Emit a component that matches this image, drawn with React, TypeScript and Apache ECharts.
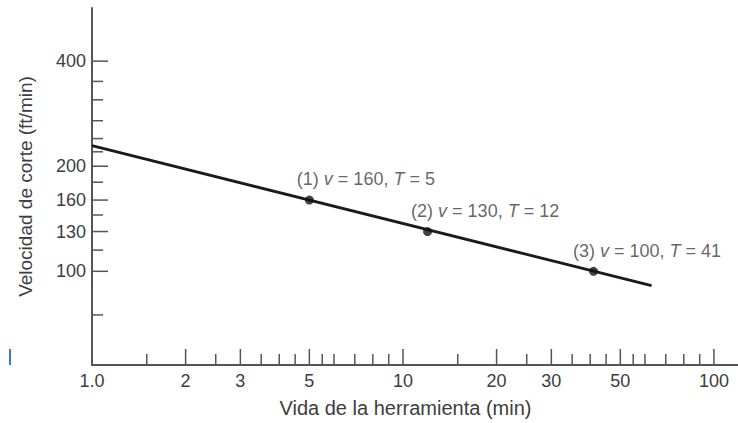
import React, { useEffect, useRef } from "react";
import * as echarts from "echarts";

// Tool life (min) and cutting speed (ft/min) of the three measured points
const toolLife = [5, 12, 41];
const cuttingSpeed = [160, 130, 100];

// Taylor line ends (T = 1 and T = 63)
const lineToolLife = [1, 63];
const lineSpeed = [229, 91];

// X axis (log) ticks and labels
const xLabelValues = [1, 2, 3, 5, 10, 20, 30, 50, 100];
const xLabelTexts = ["1.0", "2", "3", "5", "10", "20", "30", "50", "100"];
const xMajorTicks = [2, 3, 5, 10, 20, 30, 50, 100];
const xMinorTicks = [1.5, 2.5, 3.5, 4, 4.5, 5.5, 6, 7, 8, 9, 15, 25, 35, 40, 45, 55, 60, 70, 80, 90];

// Y axis (log) ticks and labels
const yLabelValues = [100, 130, 160, 200, 400];
const yLabelTexts = ["100", "130", "160", "200", "400"];
const yMinorTicks = [75, 115, 145, 180, 220, 240, 270, 310, 350];

const X_MIN = 1;
const X_MAX = 119.5;
const Y_MIN = 53.9;
const Y_MAX = 568;

const FONT = "'Liberation Sans', Arial, Helvetica, sans-serif";
const TEXT_COLOR = "#3d3d3d";
const AXIS_COLOR = "#555555";
const MAJOR_LEN = 16;
const MINOR_LEN = 11;

export default function App() {
  const ref = useRef<HTMLDivElement>(null);

  useEffect(() => {
    if (!ref.current) return;
    const chart = echarts.init(ref.current, null, { renderer: "svg" });

    const xTickData = [
      ...xMajorTicks.map((v) => [v, Y_MIN, MAJOR_LEN]),
      ...xMinorTicks.map((v) => [v, Y_MIN, MINOR_LEN]),
    ];
    const yTickData = [
      ...yLabelValues.map((v) => [X_MIN, v, MAJOR_LEN]),
      ...yMinorTicks.map((v) => [X_MIN, v, MINOR_LEN]),
    ];

    const labelOffsets = [
      [-8, -17],
      [-12, -16],
      [-16, -16],
    ];

    const option: any = {
      animation: false,
      backgroundColor: "#ffffff",
      grid: { left: 92, right: 0, top: 8, bottom: 57, containLabel: false },
      xAxis: {
        type: "log",
        min: X_MIN,
        max: X_MAX,
        name: "Vida de la herramienta (min)",
        nameLocation: "middle",
        nameGap: 33,
        nameTextStyle: {
          fontFamily: FONT,
          fontSize: 20,
          color: TEXT_COLOR,
          padding: [0, 19, 0, 0],
        },
        axisLine: { show: true, onZero: false, lineStyle: { color: AXIS_COLOR, width: 2 } },
        axisTick: { show: false },
        axisLabel: { show: false },
        splitLine: { show: false },
        minorTick: { show: false },
      },
      yAxis: {
        type: "log",
        min: Y_MIN,
        max: Y_MAX,
        name: "Velocidad de corte (ft/min)",
        nameLocation: "middle",
        nameGap: 57,
        nameTextStyle: { fontFamily: FONT, fontSize: 19, color: TEXT_COLOR },
        axisLine: { show: true, onZero: false, lineStyle: { color: AXIS_COLOR, width: 2 } },
        axisTick: { show: false },
        axisLabel: { show: false },
        splitLine: { show: false },
        minorTick: { show: false },
      },
      graphic: [
        {
          type: "rect",
          shape: { x: 9, y: 349, width: 2, height: 16 },
          style: { fill: "#3f73d8" },
          silent: true,
        },
      ],
      series: [
        {
          type: "custom",
          name: "xTicks",
          silent: true,
          clip: false,
          encode: { x: 0, y: 1 },
          data: xTickData,
          renderItem: (params: any, api: any) => {
            const p = api.coord([api.value(0), Y_MIN]);
            const len = api.value(2);
            return {
              type: "line",
              shape: { x1: p[0], y1: p[1], x2: p[0], y2: p[1] - len },
              style: { stroke: AXIS_COLOR, lineWidth: 1.5 },
            };
          },
          z: 3,
        },
        {
          type: "custom",
          name: "yTicks",
          silent: true,
          clip: false,
          encode: { x: 0, y: 1 },
          data: yTickData,
          renderItem: (params: any, api: any) => {
            const p = api.coord([X_MIN, api.value(1)]);
            const len = api.value(2);
            return {
              type: "line",
              shape: { x1: p[0], y1: p[1], x2: p[0] + len, y2: p[1] },
              style: { stroke: AXIS_COLOR, lineWidth: 1.5 },
            };
          },
          z: 3,
        },
        {
          type: "custom",
          name: "xLabels",
          silent: true,
          clip: false,
          encode: { x: 0, y: 1 },
          data: xLabelValues.map((v) => [v, Y_MIN]),
          renderItem: (params: any, api: any) => {
            const p = api.coord([api.value(0), Y_MIN]);
            return {
              type: "text",
              x: p[0],
              y: p[1] + 7,
              style: {
                text: xLabelTexts[params.dataIndex],
                fill: TEXT_COLOR,
                fontFamily: FONT,
                fontSize: 18,
                align: "center",
                verticalAlign: "top",
              },
            };
          },
        },
        {
          type: "custom",
          name: "yLabels",
          silent: true,
          clip: false,
          encode: { x: 0, y: 1 },
          data: yLabelValues.map((v) => [X_MIN, v]),
          renderItem: (params: any, api: any) => {
            const p = api.coord([X_MIN, api.value(1)]);
            return {
              type: "text",
              x: p[0] - 6,
              y: p[1],
              style: {
                text: yLabelTexts[params.dataIndex],
                fill: TEXT_COLOR,
                fontFamily: FONT,
                fontSize: 18,
                align: "right",
                verticalAlign: "middle",
              },
            };
          },
        },
        {
          type: "line",
          name: "Taylor",
          data: lineToolLife.map((t, i) => [t, lineSpeed[i]]),
          showSymbol: false,
          symbol: "none",
          lineStyle: { color: "#1a1a1a", width: 2.8 },
          silent: true,
          z: 4,
        },
        {
          type: "scatter",
          name: "Puntos",
          symbol: "circle",
          symbolSize: 9,
          itemStyle: { color: "#111111" },
          z: 5,
          data: toolLife.map((t, i) => ({
            value: [t, cuttingSpeed[i]],
            label: {
              show: true,
              position: labelOffsets[i],
              align: "left",
              verticalAlign: "middle",
              formatter: `(${i + 1}) {i|v} = ${cuttingSpeed[i]}, {i|T} = ${t}`,
              fontFamily: FONT,
              fontSize: 18,
              color: TEXT_COLOR,
              rich: {
                i: { fontStyle: "italic", fontFamily: FONT, fontSize: 18, color: TEXT_COLOR },
              },
            },
          })),
        },
      ],
    };

    chart.setOption(option);
    return () => chart.dispose();
  }, []);

  return (
    <div
      ref={ref}
      style={{ position: "fixed", left: 0, top: 0, width: 738, height: 423, background: "#fff" }}
    />
  );
}
